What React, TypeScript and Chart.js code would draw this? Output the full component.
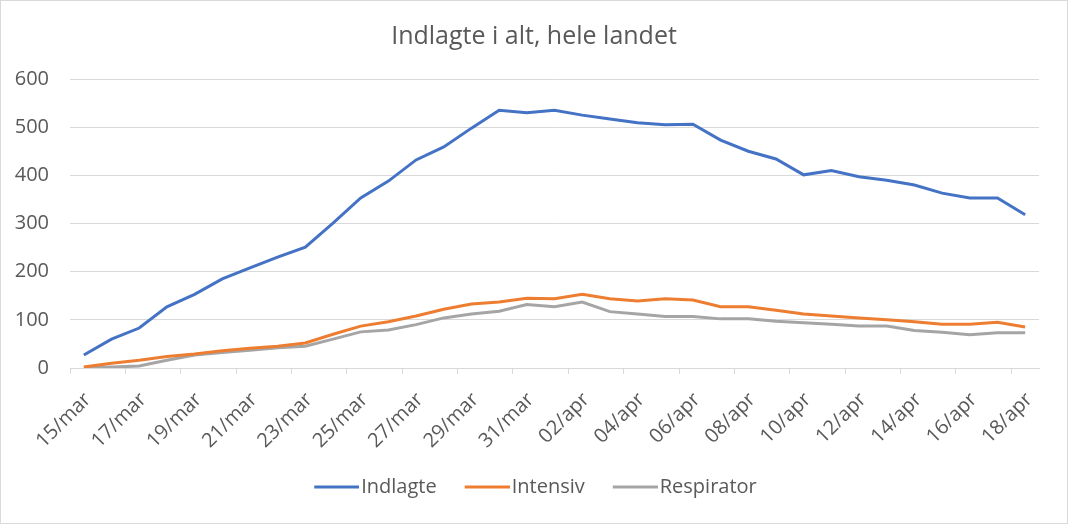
import React, { useEffect, useRef } from "react";
import { Chart, registerables } from "chart.js";

Chart.register(...registerables);

const categories = [
  "15/mar", "16/mar", "17/mar", "18/mar", "19/mar", "20/mar", "21/mar", "22/mar", "23/mar",
  "24/mar", "25/mar", "26/mar", "27/mar", "28/mar", "29/mar", "30/mar", "31/mar",
  "01/apr", "02/apr", "03/apr", "04/apr", "05/apr", "06/apr", "07/apr", "08/apr", "09/apr",
  "10/apr", "11/apr", "12/apr", "13/apr", "14/apr", "15/apr", "16/apr", "17/apr", "18/apr",
];

const indlagte = [27, 60, 83, 127, 153, 185, 208, 230, 251, 301, 353, 388, 432, 459, 498, 535, 530,
  535, 525, 517, 509, 505, 506, 473, 450, 434, 401, 410, 397, 390, 380, 363, 353, 353, 318];
const intensiv = [2, 10, 16, 24, 29, 36, 41, 45, 52, 70, 87, 96, 108, 122, 133, 137, 145,
  144, 153, 144, 139, 144, 141, 127, 127, 120, 112, 108, 104, 100, 96, 91, 91, 95, 85];
const respirator = [1, 2, 4, 16, 27, 32, 37, 42, 45, 60, 75, 79, 90, 104, 112, 118, 132,
  127, 137, 117, 112, 107, 107, 102, 102, 97, 94, 91, 87, 87, 78, 74, 69, 73, 73];

const yTicks = [0, 100, 200, 300, 400, 500, 600];

const seriesNames = ["Indlagte", "Intensiv", "Respirator"];
const seriesColors = ["#4472C4", "#ED7D31", "#A5A5A5"];

const FONT = "'Open Sans', Lato, sans-serif";
const TEXT = "#595959";
const GRID = "#d9d9d9";

function lineImage(color: string) {
  const c = document.createElement("canvas");
  c.width = 56;
  c.height = 6;
  const g = c.getContext("2d");
  if (g) {
    g.strokeStyle = color;
    g.lineWidth = 3;
    g.beginPath();
    g.moveTo(11, 3);
    g.lineTo(56, 3);
    g.stroke();
  }
  return c;
}

export default function App() {
  const ref = useRef<HTMLCanvasElement | null>(null);

  useEffect(() => {
    document.body.style.margin = "0";
    if (!ref.current) return;
    const series = [indlagte, intensiv, respirator];
    const imgs = seriesColors.map(lineImage);
    const chart = new Chart(ref.current, {
      type: "line",
      data: {
        labels: categories,
        datasets: series.map((data, i) => ({
          label: seriesNames[i],
          data,
          borderColor: seriesColors[i],
          backgroundColor: seriesColors[i],
          borderWidth: 3,
          pointRadius: 0,
          tension: 0,
          fill: false,
          yAxisID: "y",
        })),
      },
      options: {
        animation: false,
        responsive: true,
        maintainAspectRatio: false,
        layout: { padding: { left: 0, right: 0, top: 0, bottom: 16 } },
        plugins: {
          title: {
            display: true,
            text: "Indlagte i alt, hele landet",
            color: TEXT,
            font: { family: FONT, size: 25, weight: "normal" },
            padding: { top: 21, bottom: 27 },
          },
          legend: {
            position: "bottom",
            labels: {
              color: TEXT,
              font: { family: FONT, size: 20 },
              usePointStyle: true,
              pointStyleWidth: 40,
              boxHeight: 20,
              padding: 25,
              generateLabels: (ch: any) =>
                Chart.defaults.plugins.legend.labels
                  .generateLabels(ch)
                  .map((it: any) => ({ ...it, pointStyle: imgs[it.datasetIndex] })),
            },
          },
          tooltip: { enabled: false },
        },
        scales: {
          x: {
            type: "category",
            offset: true,
            grid: {
              offset: true,
              drawOnChartArea: false,
              drawTicks: true,
              tickLength: 6,
              color: (ctx: any) => (ctx.index % 2 === 0 ? GRID : "rgba(0,0,0,0)"),
            },
            border: { display: true, color: GRID },
            ticks: {
              autoSkip: false,
              minRotation: 45,
              maxRotation: 45,
              color: TEXT,
              font: { family: FONT, size: 20 },
              padding: 14,
              labelOffset: 4,
              callback: (_v: any, i: number) => (i % 2 === 0 ? categories[i] : ""),
            },
            afterFit: (scale: any) => {
              scale.height = 84;
            },
          },
          y: {
            min: 0,
            max: 600,
            afterBuildTicks: (scale: any) => {
              scale.ticks = yTicks.map((v) => ({ value: v }));
            },
            grid: { color: GRID, drawTicks: false },
            border: { display: false },
            ticks: {
              color: TEXT,
              font: { family: FONT, size: 20 },
              padding: 21,
            },
            afterFit: (scale: any) => {
              scale.width = 69;
            },
          },
          yRight: {
            position: "right",
            display: true,
            min: 0,
            max: 600,
            grid: { display: false, drawTicks: false },
            border: { display: false },
            ticks: { display: false },
            afterFit: (scale: any) => {
              scale.width = 28;
            },
          },
        },
      },
    });
    return () => chart.destroy();
  }, []);

  return (
    <div
      style={{
        width: 1068,
        height: 524,
        boxSizing: "border-box",
        border: "1px solid #d9d9d9",
        background: "#fff",
        position: "relative",
      }}
    >
      <canvas ref={ref} />
    </div>
  );
}
